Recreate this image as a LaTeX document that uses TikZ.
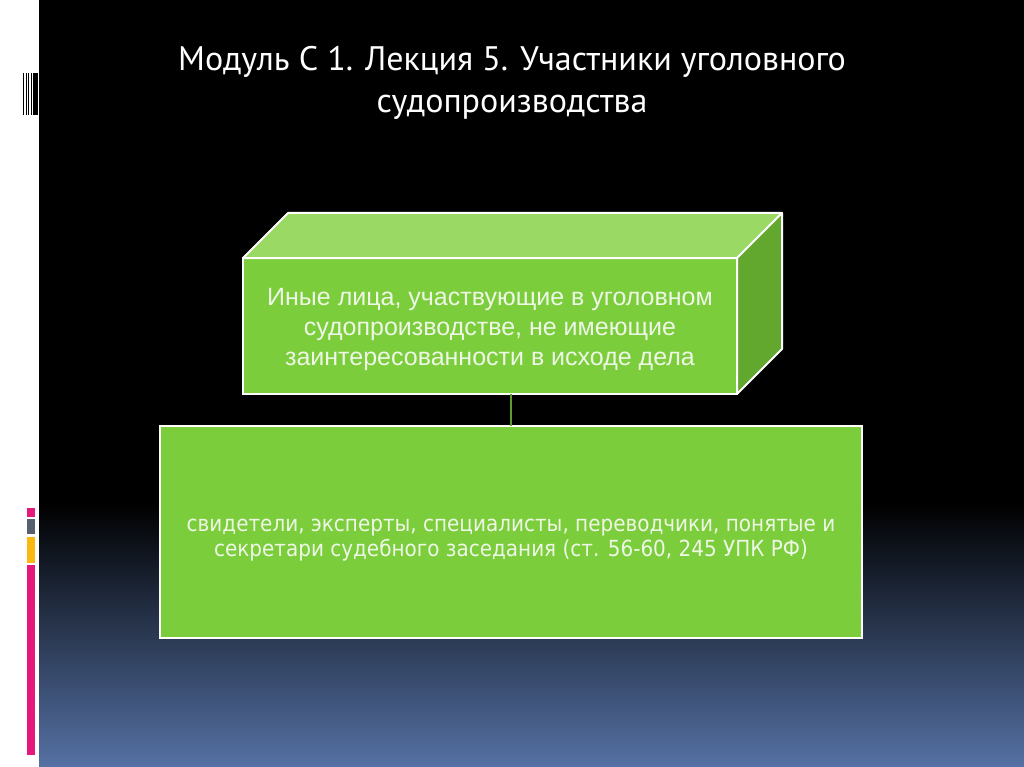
\documentclass[tikz,border=0pt]{standalone}
\usepackage{fontspec}
\setmainfont{Liberation Sans}
\newfontfamily\titlefont{PT Sans}
\newfontfamily\listfont[FakeStretch=0.9]{DejaVu Sans}
\usetikzlibrary{positioning}
\definecolor{frontgreen}{HTML}{7CCD3C}
\definecolor{topgreen}{HTML}{9AD964}
\definecolor{sidegreen}{HTML}{63A82E}
\definecolor{linegreen}{HTML}{5B9B30}
\definecolor{textgreen}{HTML}{EEF7E6}
\definecolor{bgblue}{HTML}{5571A4}
\definecolor{barpink}{HTML}{E5187C}
\definecolor{bargray}{HTML}{56606E}
\definecolor{baryellow}{HTML}{FBB812}
\tikzset{
    greenbox/.style={draw=white, line width=2pt, fill=frontgreen, outer sep=0pt,
        text=textgreen, align=center, inner sep=0pt},
}
\begin{document}
\begin{tikzpicture}[x=1pt,y=-1pt]
    \useasboundingbox (0,0) rectangle (1024,767);
    %background
    \fill[black] (0,0) rectangle (1024,767);
    \shade[top color=black, bottom color=bgblue] (39,503) rectangle (1024,767);
    \fill[white] (0,0) rectangle (39,767);
    %strip marks
    \foreach \x in {23,25.5,28,30.5}
        \fill[black] (\x,73) rectangle +(1.3,42);
    \fill[black] (32.5,73) rectangle (37.5,115);
    \fill[barpink] (27,508) rectangle (35,517);
    \fill[bargray] (27,519) rectangle (35,534);
    \fill[baryellow] (27,537) rectangle (35,563);
    \fill[barpink] (27,565) rectangle (35,755);
    %title
    \node[text=white, align=center, font=\titlefont\fontsize{34}{42}\selectfont]
        (title) at (512,83) {Модуль С 1. Лекция 5. Участники уголовного\\судопроизводства};
    %boxes
    \node[greenbox, minimum width=494, minimum height=136,
        font=\fontsize{25}{30}\selectfont] (lica) at (490,326)
        {\rule{0pt}{24pt}Иные лица, участвующие в уголовном\\судопроизводстве, не имеющие\\заинтересованности в исходе дела};
    \filldraw[topgreen, draw=white, line width=2pt, line join=round]
        (lica.north west) -- ([shift={(45,-45)}]lica.north west)
        -- ([shift={(45,-45)}]lica.north east) -- (lica.north east) -- cycle;
    \filldraw[sidegreen, draw=white, line width=2pt, line join=round]
        (lica.north east) -- ([shift={(45,-45)}]lica.north east)
        -- ([shift={(45,-45)}]lica.south east) -- (lica.south east) -- cycle;
    \node[greenbox, minimum width=702, minimum height=212,
        font=\listfont\fontsize{22.2}{25.5}\selectfont] (uch) at (511,532)
        {\rule{0pt}{29pt}свидетели, эксперты, специалисты, переводчики, понятые и\\секретари судебного заседания (ст. 56-60, 245 УПК РФ)};
    %link
    \draw[linegreen, line width=2pt] (uch.north) -- (uch.north |- lica.south);
\end{tikzpicture}
\end{document}
